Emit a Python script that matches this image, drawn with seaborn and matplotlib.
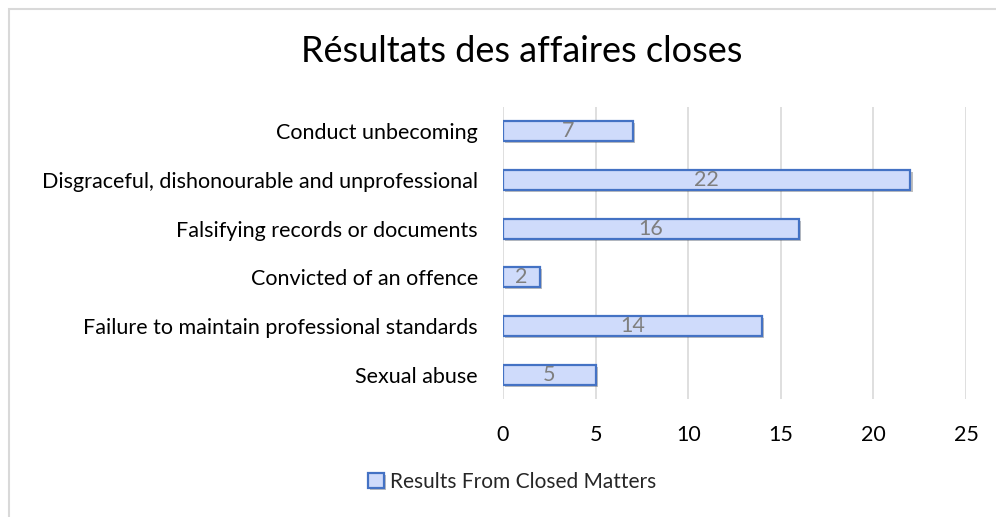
import matplotlib
matplotlib.use("Agg")
import matplotlib.pyplot as plt
import matplotlib.patheffects as pe
from matplotlib.patches import Rectangle
import seaborn as sns
import pandas as pd

categories = ["Conduct unbecoming",
              "Disgraceful, dishonourable and unprofessional",
              "Falsifying records or documents",
              "Convicted of an offence",
              "Failure to maintain professional standards",
              "Sexual abuse"]
values = [7, 22, 16, 2, 14, 5]
series_name = "Results From Closed Matters"
x_ticks = [0, 5, 10, 15, 20, 25]

df = pd.DataFrame({"category": categories, "value": values})

sns.set_theme(style="white")
plt.rcParams['font.family'] = ['Lato', 'DejaVu Sans']

fig = plt.figure(figsize=(9.96, 5.17), dpi=100)
ax = fig.add_axes([503/996, 1 - 399/517, (966-503)/996, (399-107)/517])

sns.barplot(data=df, y="category", x="value", orient="h", ax=ax,
            color="#cfdbfb", edgecolor="#4472c4", linewidth=1.6,
            width=0.41, saturation=1, label=series_name)

for p in ax.patches:
    p.set_path_effects([pe.SimplePatchShadow(offset=(1.5, -1.5), alpha=0.25, shadow_rgbFace="#000000"),
                        pe.Normal()])

for c in ax.containers:
    ax.bar_label(c, labels=[str(v) for v in values], label_type="center",
                 color="#7f7f7f", fontsize=15.5)

ax.set_xlim(0, 25)
ax.set_xticks(x_ticks)
ax.set_xticklabels([str(t) for t in x_ticks])
ax.grid(axis="x", color="#d9d9d9", linewidth=1.2)
ax.set_axisbelow(True)
for s in ax.spines.values():
    s.set_visible(False)
ax.tick_params(axis="both", length=0, labelsize=15.5, colors="#000000")
ax.tick_params(axis="x", pad=19)
ax.tick_params(axis="y", pad=18)
ax.set_xlabel("")
ax.set_ylabel("")

fig.text(522/996, 1 - 52/517, "Résultats des affaires closes", ha="center", va="center",
         fontsize=26, color="#000000")

leg = ax.legend(loc="center", bbox_to_anchor=(512/996, 1 - 482/517),
                bbox_transform=fig.transFigure, frameon=False, fontsize=15,
                handlelength=0.75, handleheight=0.75, handletextpad=0.3)

fig.patches.append(Rectangle((9/996, -0.1), 1.2, 1.1 - 9/517, transform=fig.transFigure,
                             fill=False, edgecolor="#d9d9d9", linewidth=1.5, zorder=-1))

fig.savefig("out.png", dpi=100)
